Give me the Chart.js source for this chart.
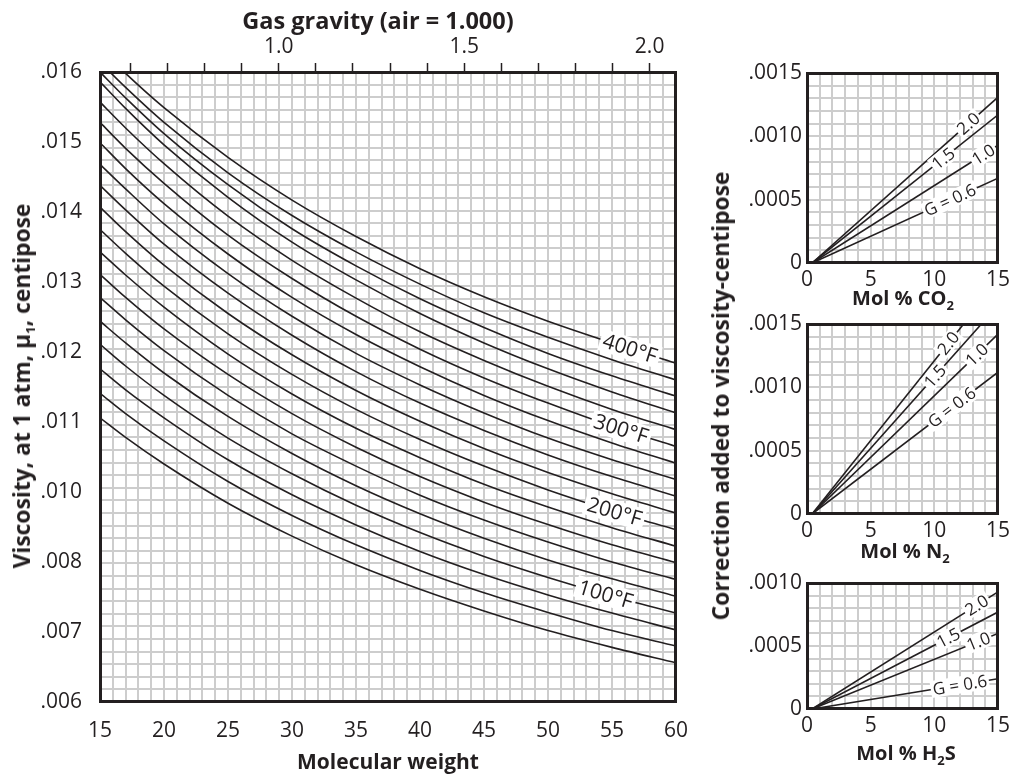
<!DOCTYPE html>
<html>
<head>
<meta charset="utf-8">
<script src="https://cdn.jsdelivr.net/npm/chart.js@4.4.1/dist/chart.umd.min.js"></script>
<style>
  html, body { margin: 0; padding: 0; background: #fff; }
  body { width: 1025px; height: 777px; position: relative; overflow: hidden;
         font-family: 'Open Sans', sans-serif; color: #231f20; }
  canvas { position: absolute; }
  .ttl { position: absolute; font-weight: 700; font-size: 22px; line-height: 26px;
         white-space: nowrap; transform: translate(-50%, -50%); }
  .ttl.v { transform: translate(-50%, -50%) rotate(-90deg); font-size: 22.8px; }
  .ttl.s { font-size: 20px; line-height: 24px; }
  .ttl sub { font-size: 13px; line-height: 0; vertical-align: -5px; }
</style>
</head>
<body>
<canvas id="main" width="700" height="777" style="left:0;top:0"></canvas>
<canvas id="co2" width="290" height="250" style="left:735px;top:50px"></canvas>
<canvas id="n2" width="290" height="250" style="left:735px;top:300px"></canvas>
<canvas id="h2s" width="290" height="217" style="left:735px;top:560px"></canvas>

<div class="ttl" style="left:378px;top:20px;font-size:23.5px">Gas gravity (air = 1.000)</div>
<div class="ttl" style="left:388px;top:761px;font-size:21px">Molecular weight</div>
<div class="ttl v" style="left:22px;top:386px">Viscosity, at 1 atm, μ<sub>1</sub>, centipose</div>
<div class="ttl v" style="left:721px;top:396px">Correction added to viscosity-centipose</div>
<div class="ttl s" style="left:903px;top:298px">Mol % CO<sub>2</sub></div>
<div class="ttl s" style="left:905px;top:551px">Mol % N<sub>2</sub></div>
<div class="ttl s" style="left:906px;top:753px">Mol % H<sub>2</sub>S</div>

<script>
// ---- Viscosity of natural gas at 1 atm vs molecular weight ----
const AIR_MW = 28.97;
const molWeight = [15, 17, 20, 25, 30, 35, 40, 45, 50, 55, 60];
const mwTickLabels = [15, 20, 25, 30, 35, 40, 45, 50, 55, 60];
const gravityTicks = [0.6, 0.7, 0.8, 0.9, 1.0, 1.1, 1.2, 1.3, 1.4, 1.5, 1.6, 1.7, 1.8, 1.9, 2.0];
const gravityTickLabels = ['', '', '', '', '1.0', '', '', '', '', '1.5', '', '', '', '', '2.0'];
const viscTickLabels = ['.006', '.007', '.008', '.010', '.011', '.012', '.013', '.014', '.015', '.016'];
const viscTickValues = [0.006, 0.007, 0.008, 0.010, 0.011, 0.012, 0.013, 0.014, 0.015, 0.016];

// isotherms, viscosity in centipoise at each molecular weight
const mu040 = [.01106, .01078, .01040, .00968, .00874, .00796, .00761, .00730, .00702, .00678, .00656];
const mu060 = [.01141, .01112, .01073, .01015, .00933, .00849, .00788, .00756, .00728, .00702, .00680];
const mu080 = [.01176, .01146, .01106, .01046, .00992, .00906, .00830, .00782, .00753, .00727, .00703];
const mu100 = [.01211, .01180, .01138, .01077, .01026, .00962, .00884, .00816, .00778, .00751, .00727];
const mu120 = [.01244, .01213, .01170, .01108, .01055, .01009, .00938, .00868, .00806, .00776, .00751];
const mu140 = [.01278, .01246, .01202, .01138, .01083, .01037, .00991, .00920, .00857, .00800, .00775];
const mu160 = [.01311, .01278, .01233, .01168, .01112, .01064, .01022, .00971, .00907, .00849, .00799];
const mu180 = [.01343, .01310, .01264, .01197, .01140, .01091, .01049, .01011, .00957, .00898, .00845];
const mu200 = [.01375, .01341, .01294, .01226, .01168, .01118, .01075, .01037, .01003, .00946, .00892];
const mu220 = [.01407, .01372, .01324, .01255, .01196, .01145, .01101, .01062, .01028, .00995, .00940];
const mu240 = [.01438, .01403, .01354, .01284, .01224, .01172, .01127, .01088, .01053, .01022, .00988];
const mu260 = [.01468, .01433, .01383, .01312, .01251, .01198, .01153, .01113, .01077, .01046, .01018];
const mu280 = [.01499, .01462, .01412, .01340, .01278, .01225, .01179, .01138, .01102, .01070, .01041];
const mu300 = [.01528, .01491, .01441, .01367, .01305, .01251, .01204, .01163, .01127, .01094, .01065];
const mu320 = [.01557, .01520, .01469, .01394, .01331, .01277, .01229, .01188, .01151, .01118, .01089];
const mu340 = [.01586, .01548, .01496, .01421, .01357, .01303, .01255, .01213, .01176, .01143, .01113];
const mu360 = [.01600, .01563, .01512, .01439, .01376, .01323, .01276, .01235, .01198, .01166, .01137];
const mu380 = [.01614, .01578, .01528, .01456, .01395, .01343, .01297, .01256, .01221, .01189, .01160];
const mu400 = [.01634, .01598, .01549, .01478, .01417, .01365, .01319, .01279, .01244, .01213, .01184];

const temps = [40, 60, 80, 100, 120, 140, 160, 180, 200, 220, 240, 260, 280, 300, 320, 340, 360, 380, 400];
const isotherms = [mu040, mu060, mu080, mu100, mu120, mu140, mu160, mu180, mu200, mu220,
                   mu240, mu260, mu280, mu300, mu320, mu340, mu360, mu380, mu400];

// temperature tags written along their curves (molecular weight of the tag centre)
const tempTagTemps = [400, 300, 200, 100];
const tempTagMW = [56.4, 55.7, 55.2, 54.5];

// ---- Corrections for non-hydrocarbon components ----
const gravityNames = ['2.0', '1.5', '1.0', 'G = 0.6'];
const lineStartMol = 0.4;
const co2EndMol = [15, 15, 15, 15];
const co2EndCorr = [0.00131, 0.00117, 0.00093, 0.00067];
const n2EndMol = [12.3, 13.7, 15, 15];
const n2EndCorr = [0.0015, 0.0015, 0.00142, 0.00112];
const h2sEndMol = [15, 15, 15, 15];
const h2sEndCorr = [0.00093, 0.00077, 0.00060, 0.00024];
const co2TagMol = [12.67, 10.7, 13.85, 11.23];
const n2TagMol = [11.1, 10.05, 13.33, 11.37];
const h2sTagMol = [13.33, 11.1, 13.46, 12.0];
const molTickLabels = [0, 5, 10, 15];
const corrTickLabels15 = ['0', '.0005', '.0010', '.0015'];
const corrTickLabels10 = ['0', '.0005', '.0010'];

// ---- styling ----
const INK = '#231f20';
const GRID = '#cdcdcd';
const FAMILY = "'Open Sans', sans-serif";

// position of a viscosity on the labelled (unevenly numbered) axis
function toAxis(v) {
  const n = viscTickValues.length;
  for (let i = 0; i < n - 1; i++) {
    const a = viscTickValues[i], b = viscTickValues[i + 1];
    if (v <= b || i === n - 2) return i + (v - a) / (b - a);
  }
}

const framePlugin = {
  id: 'frame',
  afterDatasetsDraw(chart) {
    const { ctx, chartArea: a } = chart;
    const l = Math.round(a.left), t = Math.round(a.top);
    const r = Math.round(a.right), b = Math.round(a.bottom);
    ctx.save();
    ctx.strokeStyle = INK;
    ctx.lineWidth = 3;
    ctx.strokeRect(l + 0.5, t + 0.5, r - l - 1, b - t - 1);
    ctx.restore();
  }
};

// writes a tag on a line, interrupting it, aligned with the local slope
function tagPlugin(tags, fontSize, boxH, pad) {
  return {
    id: 'tags',
    afterDatasetsDraw(chart) {
      const ctx = chart.ctx;
      ctx.save();
      ctx.font = fontSize + 'px ' + FAMILY;
      ctx.textAlign = 'center';
      ctx.textBaseline = 'middle';
      tags.forEach(tag => {
        const raw = chart.data.datasets[tag.dataset].data;
        const pts = chart.getDatasetMeta(tag.dataset).data;
        let j = 0;
        while (j < raw.length - 2 && raw[j + 1].x < tag.at) j++;
        const t = (tag.at - raw[j].x) / (raw[j + 1].x - raw[j].x);
        const x = pts[j].x + t * (pts[j + 1].x - pts[j].x);
        const y = pts[j].y + t * (pts[j + 1].y - pts[j].y);
        const ang = Math.atan2(pts[j + 1].y - pts[j].y, pts[j + 1].x - pts[j].x);
        const w = ctx.measureText(tag.text).width + pad;
        ctx.save();
        ctx.translate(x, y);
        ctx.rotate(ang);
        ctx.fillStyle = '#fff';
        ctx.fillRect(-w / 2, -boxH / 2, w, boxH);
        ctx.fillStyle = INK;
        ctx.fillText(tag.text, 0, 1);
        ctx.restore();
      });
      ctx.restore();
    }
  };
}

Chart.defaults.font.family = FAMILY;
Chart.defaults.color = INK;

// ---- main chart ----
const mainDatasets = isotherms.map((mu, k) => ({
  label: temps[k] + '°F',
  data: molWeight.map((m, i) => ({ x: m, y: toAxis(mu[i]) })),
  borderColor: INK,
  borderWidth: 1.6,
  pointRadius: 0,
  fill: false,
  cubicInterpolationMode: 'monotone',
  xAxisID: 'x',
  yAxisID: 'y'
}));

const mainTags = tempTagTemps.map((T, i) => ({
  dataset: temps.indexOf(T), at: tempTagMW[i], text: T + '°F'
}));

new Chart(document.getElementById('main'), {
  type: 'line',
  data: { datasets: mainDatasets },
  options: {
    responsive: false,
    animation: false,
    events: [],
    layout: { padding: { left: 0, right: 24, top: 0, bottom: 0 } },
    plugins: { legend: { display: false }, tooltip: { enabled: false } },
    scales: {
      x: {
        type: 'linear', position: 'bottom', min: 15, max: 60,
        ticks: {
          stepSize: 1, autoSkip: false, maxRotation: 0, padding: 0,
          font: { size: 21 }, color: INK,
          callback: v => mwTickLabels.includes(v) ? String(v) : ''
        },
        grid: { color: GRID, lineWidth: 2, drawTicks: true, tickLength: 16,
                tickColor: 'rgba(0,0,0,0)' },
        border: { display: false },
        afterFit: s => { s.height = 75; }
      },
      gravity: {
        type: 'linear', position: 'top', min: 15 / AIR_MW, max: 60 / AIR_MW,
        afterBuildTicks: s => { s.ticks = gravityTicks.map(v => ({ value: v })); },
        ticks: {
          autoSkip: false, maxRotation: 0, padding: 3, font: { size: 21 }, color: INK,
          callback: (v, i) => gravityTickLabels[i]
        },
        grid: { drawOnChartArea: false, drawTicks: true, tickLength: 9,
                tickColor: INK, tickWidth: 1.5, color: INK },
        border: { display: false },
        afterFit: s => { s.height = 72; }
      },
      y: {
        type: 'linear', position: 'left', min: 0, max: viscTickLabels.length - 1,
        afterBuildTicks: s => { s.ticks = viscTickLabels.map((_, i) => ({ value: i })); },
        ticks: { padding: 10, font: { size: 21 }, color: INK,
                 callback: (v, i) => viscTickLabels[i] },
        grid: { display: false },
        border: { display: false },
        afterFit: s => { s.width = 100; }
      },
      yMinor: {
        type: 'linear', position: 'left', min: 0, max: 50,
        ticks: { display: false, stepSize: 1 },
        grid: { color: GRID, lineWidth: 2, drawTicks: false },
        border: { display: false },
        afterFit: s => { s.width = 0; }
      }
    }
  },
  plugins: [tagPlugin(mainTags, 21, 22, 6), framePlugin]
});

// ---- correction panels ----
function makePanel(id, endMol, endCorr, tagMol, yMax, yLabels, padTop, xHeight) {
  const datasets = gravityNames.map((g, k) => ({
    label: g,
    data: [{ x: lineStartMol, y: 0 }, { x: endMol[k], y: endCorr[k] }],
    borderColor: INK, borderWidth: 1.6, pointRadius: 0, fill: false
  }));
  const tags = gravityNames.map((g, k) => ({ dataset: k, at: tagMol[k], text: g }));
  new Chart(document.getElementById(id), {
    type: 'line',
    data: { datasets },
    options: {
      responsive: false,
      animation: false,
      events: [],
      layout: { padding: { left: 0, right: 27, top: padTop, bottom: 0 } },
      plugins: { legend: { display: false }, tooltip: { enabled: false } },
      scales: {
        x: {
          type: 'linear', min: 0, max: 15,
          ticks: { stepSize: 1, autoSkip: false, maxRotation: 0, padding: 0,
                   font: { size: 21 }, color: INK,
                   callback: v => molTickLabels.includes(v) ? String(v) : '' },
          grid: { color: GRID, lineWidth: 2, drawTicks: true, tickLength: 4,
                  tickColor: 'rgba(0,0,0,0)' },
          border: { display: false },
          afterFit: s => { s.height = xHeight; }
        },
        y: {
          type: 'linear', min: 0, max: yMax,
          ticks: { stepSize: 0.0001, autoSkip: false, padding: 5,
                   font: { size: 21 }, color: INK,
                   callback: (v, i) => (i % 5 === 0 ? yLabels[i / 5] : '') },
          grid: { color: GRID, lineWidth: 2, drawTicks: false },
          border: { display: false },
          afterFit: s => { s.width = 72; }
        }
      }
    },
    plugins: [tagPlugin(tags, 17, 17, 4), framePlugin]
  });
}

makePanel('co2', co2EndMol, co2EndCorr, co2TagMol, 0.0015, corrTickLabels15, 23, 37);
makePanel('n2', n2EndMol, n2EndCorr, n2TagMol, 0.0015, corrTickLabels15, 24, 36);
makePanel('h2s', h2sEndMol, h2sEndCorr, h2sTagMol, 0.0010, corrTickLabels10, 23, 68);
</script>
</body>
</html>
